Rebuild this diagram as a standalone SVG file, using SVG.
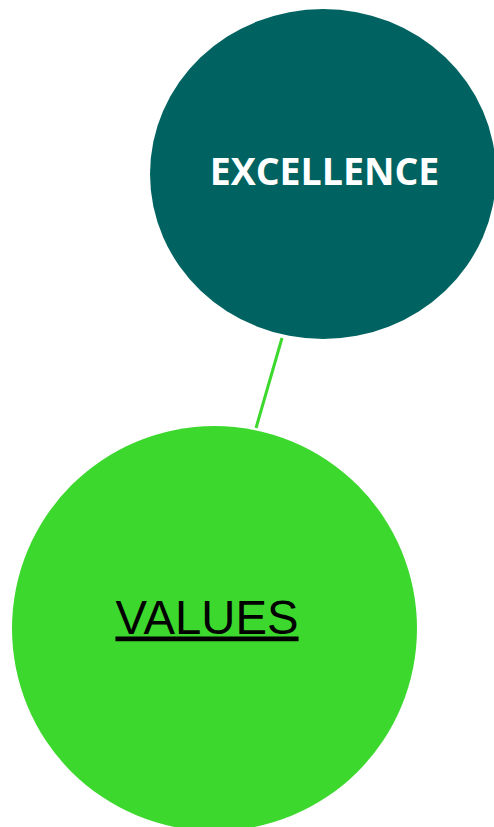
<svg xmlns="http://www.w3.org/2000/svg" width="494" height="827" viewBox="0 0 494 827">
<style>
.lbl1{font-family:"Open Sans","DejaVu Sans",sans-serif;font-weight:bold;font-size:37.5px;fill:#ffffff}
.lbl2{font-family:"Liberation Sans",Arial,sans-serif;font-size:47.3px;fill:#000000;text-decoration:underline}
.edge{stroke:#3dd82e;stroke-width:3;fill:none}
</style>
<rect width="494" height="827" fill="#ffffff"/>
<g id="connectors">
<line class="edge" x1="282" y1="338" x2="256" y2="428"/>
</g>
<g id="excellence">
<ellipse cx="323" cy="174" rx="173" ry="165" fill="#006361"/>
<text class="lbl1" x="324.5" y="185" text-anchor="middle">EXCELLENCE</text>
</g>
<g id="values">
<circle cx="214.5" cy="628.5" r="202.5" fill="#3dd82e"/>
<text class="lbl2" x="207" y="633.5" text-anchor="middle">VALUES</text>
</g>
</svg>
